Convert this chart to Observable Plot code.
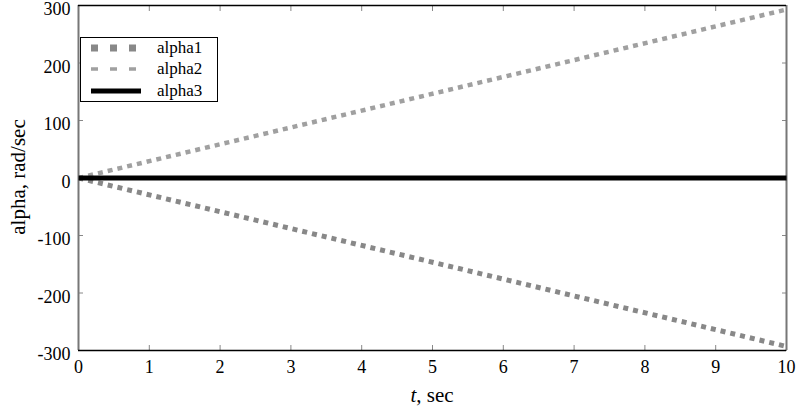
<!DOCTYPE html>
<html><head><meta charset="utf-8">
<script src="https://cdn.jsdelivr.net/npm/d3@7"></script>
<script src="https://cdn.jsdelivr.net/npm/@observablehq/plot@0.6"></script>
<style>
body{margin:0;background:#fff;}
#wrap{position:relative;width:799px;height:409px;font-family:"Liberation Serif","Times New Roman",serif;}
#wrap svg, #wrap svg text{font-family:"Liberation Serif","Times New Roman",serif !important;}
.lbl{position:absolute;font-size:21px;color:#000;white-space:nowrap;}
#legend{position:absolute;left:80px;top:37px;width:138px;height:65px;border:1.5px solid #000;background:#fff;box-sizing:border-box;}
#legend .row{position:absolute;left:0;height:20px;display:flex;align-items:center;}
#legend .row span{font-size:17px;margin-left:14px;}
</style></head>
<body><div id="wrap"></div>
<script>
const series = ["alpha1", "alpha2", "alpha3"];
const t = [0, 10];
const alpha1 = [0, -293];
const alpha2 = [0, 293];
const alpha3 = [0, 0];
const xTicks = [0,1,2,3,4,5,6,7,8,9,10];
const yTicks = [-300,-200,-100,0,100,200,300];

const styles = {
  alpha1: {stroke:"#888888", strokeWidth:5, dash:"5,5"},
  alpha2: {stroke:"#a0a0a0", strokeWidth:4.5, dash:"5,5"},
  alpha3: {stroke:"#000000", strokeWidth:5, dash:null}
};
const vals = {alpha1, alpha2, alpha3};
const rows = s => t.map((tt,i)=>({t:tt, v:vals[s][i]}));
const fmt = d => String(d);

const chart = Plot.plot({
  width: 799, height: 409,
  marginLeft: 78, marginRight: 13, marginTop: 5, marginBottom: 59,
  x: {domain:[0,10]},
  y: {domain:[-300,300]},
  style: {fontSize:"18px", color:"#000", background:"#fff"},
  marks: [
    Plot.axisX({ticks:xTicks, tickSize:-5, tickPadding:15, tickFormat:fmt, stroke:"#888", label:null, fontSize:18}),
    Plot.axisX({anchor:"top", ticks:xTicks, tickSize:-5, tickFormat:()=>"", stroke:"#888", label:null}),
    Plot.axisY({ticks:yTicks, tickSize:0, tickPadding:8, tickFormat:fmt, label:null, fontSize:18, dy:4}),
    Plot.axisY({ticks:yTicks, tickSize:-5, tickFormat:()=>"", stroke:"#888", label:null}),
    Plot.axisY({anchor:"right", ticks:yTicks, tickSize:-5, tickFormat:()=>"", stroke:"#888", label:null}),
    Plot.ruleX([0], {stroke:"#777", strokeWidth:2}),
    Plot.ruleX([10], {stroke:"#777", strokeWidth:2}),
    Plot.ruleY([300], {stroke:"#000", strokeWidth:1.5}),
    Plot.ruleY([-300], {stroke:"#000", strokeWidth:1.5}),
    ...series.map(s => Plot.line(rows(s), {x:"t", y:"v", stroke:styles[s].stroke, strokeWidth:styles[s].strokeWidth, strokeDasharray:styles[s].dash, strokeLinecap:"butt"}))
  ]
});
const wrap = document.getElementById("wrap");
wrap.appendChild(chart);

const yl = document.createElement("div");
yl.className="lbl";
yl.textContent="alpha, rad/sec";
yl.style.left="18px"; yl.style.top="177px";
yl.style.transform="translate(-50%,-50%) rotate(-90deg)";
wrap.appendChild(yl);

const xl = document.createElement("div");
xl.className="lbl";
xl.innerHTML="<i>t</i>, sec";
xl.style.left="432px"; xl.style.top="395px";
xl.style.transform="translate(-50%,-50%)";
wrap.appendChild(xl);

const lg = document.createElement("div");
lg.id="legend";
const rowTops=[0,21,43];
series.forEach((s,i)=>{
  const r=document.createElement("div");
  r.className="row";
  r.style.top=rowTops[i]+"px";
  const st=styles[s];
  const sw = s==="alpha1"?7:(s==="alpha2"?3.5:st.strokeWidth);
  const dash = s==="alpha1"?"7,12":(s==="alpha2"?"7,12":"");
  r.innerHTML=`<svg width="52" height="20" style="margin-left:10px"><line x1="0" y1="10" x2="50" y2="10" stroke="${st.stroke}" stroke-width="${sw}" ${dash?`stroke-dasharray="${dash}"`:""}/></svg><span>${s}</span>`;
  lg.appendChild(r);
});
wrap.appendChild(lg);
</script></body></html>
